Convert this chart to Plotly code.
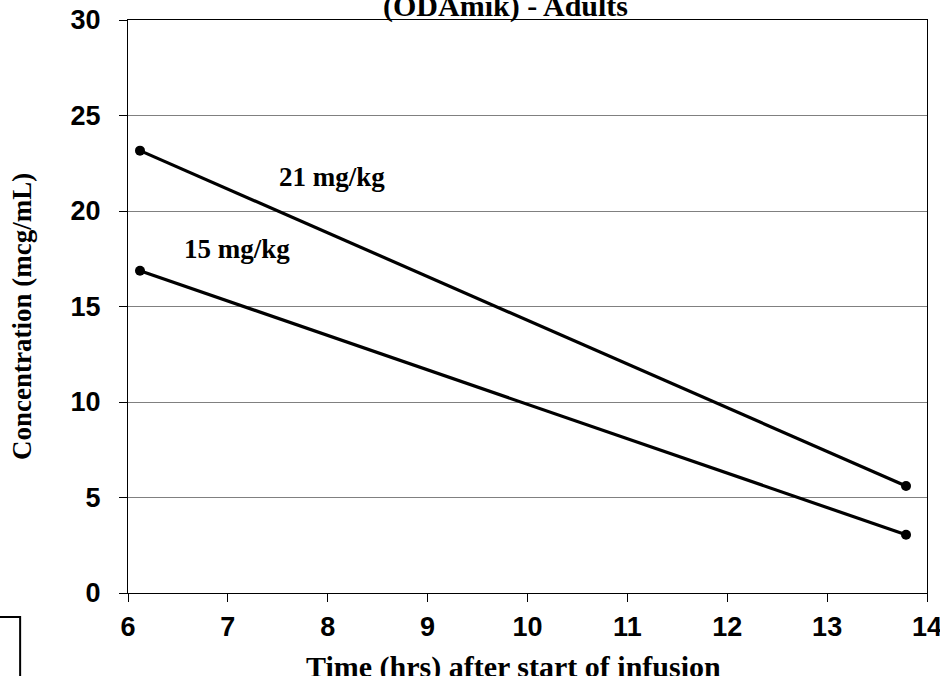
import plotly.graph_objects as go

# Data
time_hrs = [6.12, 13.79]
conc_21 = [23.16, 5.60]
conc_15 = [16.87, 3.05]
series_names = ["21 mg/kg", "15 mg/kg"]
label_pos_21 = (8.04, 21.8)
label_pos_15 = (7.09, 18.0)
x_ticks = [6, 7, 8, 9, 10, 11, 12, 13, 14]
y_ticks = [0, 5, 10, 15, 20, 25, 30]
title_text = "(ODAmik) - Adults"
x_title = "Time (hrs) after start of infusion"
y_title = "Concentration (mcg/mL)"

SERIF = "Liberation Serif, Times New Roman, serif"
SANS = "Liberation Sans, Arial, sans-serif"

fig = go.Figure()
for name, ys in zip(series_names, [conc_21, conc_15]):
    fig.add_trace(go.Scatter(
        x=time_hrs, y=ys, mode="lines+markers", name=name,
        line=dict(color="black", width=3.2),
        marker=dict(color="black", size=10),
        showlegend=False,
    ))

for name, (lx, ly) in zip(series_names, [label_pos_21, label_pos_15]):
    fig.add_annotation(x=lx, y=ly, text="<b>%s</b>" % name, showarrow=False,
                       font=dict(family=SERIF, size=27, color="black"))

# chart title (top partially cut off, as in the reference)
fig.add_annotation(xref="paper", yref="paper", x=0.472, y=0.991, yanchor="bottom",
                   text="<b>%s</b>" % title_text, showarrow=False,
                   font=dict(family=SERIF, size=30, color="black"))

# axis titles
fig.add_annotation(xref="paper", yref="paper", x=0.482, y=-0.1292, yanchor="middle",
                   text="<b>%s</b>" % x_title, showarrow=False,
                   font=dict(family=SERIF, size=30, color="black"))
fig.add_annotation(xref="paper", yref="paper", x=-0.1326, y=0.4817, xanchor="center",
                   yanchor="middle", textangle=-90,
                   text="<b>%s</b>" % y_title, showarrow=False,
                   font=dict(family=SERIF, size=27, color="black"))

# partially visible legend box at bottom-left
fig.add_shape(type="rect", xref="paper", yref="paper",
              x0=-0.2, x1=-0.135, y0=-0.0419, y1=-0.2,
              line=dict(color="black", width=2), fillcolor="rgba(0,0,0,0)")

fig.update_layout(
    width=940, height=676,
    margin=dict(l=128, r=13, t=20, b=83, autoexpand=False),
    paper_bgcolor="white", plot_bgcolor="white",
    xaxis=dict(
        range=[6, 14], tickvals=x_ticks, showgrid=False, zeroline=False, automargin=False,
        showline=True, linecolor="black", linewidth=1, mirror=True,
        ticks="outside", ticklen=8, tickcolor="black", ticklabelstandoff=2,
        ticklabeloverflow="allow",
        tickfont=dict(family=SANS, size=27, color="black", weight="bold"),
    ),
    yaxis=dict(
        range=[0, 30], tickvals=y_ticks, showgrid=True, gridcolor="#808080", gridwidth=1,
        zeroline=False, showline=True, linecolor="black", linewidth=1, mirror=True,
        automargin=False,
        ticks="outside", ticklen=8, tickcolor="black",
        ticklabelstandoff=13, ticklabeloverflow="allow",
        tickfont=dict(family=SANS, size=27, color="black", weight="bold"),
    ),
)

fig.write_html("out.html", config={"displayModeBar": False},
               post_script=["document.body.style.margin='0';"])
